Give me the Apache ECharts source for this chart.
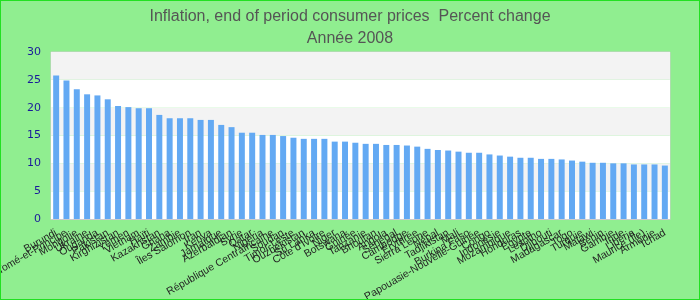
<!DOCTYPE html>
<html>
<head>
<meta charset="utf-8">
<script src="https://cdn.jsdelivr.net/npm/echarts@6/dist/echarts.min.js"></script>
<style>
html,body{margin:0;padding:0;}
#c{width:700px;height:300px;box-sizing:border-box;border:1px solid #22e022;background:#90ee90;}
</style>
</head>
<body>
<div id="c"></div>
<script>
const categories = ["Burundi","Sao Tomé-et-Principe","Mongolie","Ukraine","Ouganda","Pakistan","Kirghizistan","Yémen","Vietnam","Haïti","Kazakhstan","Ghana","Zambie","Îles Salomon","Iran","Kenya","Jamaïque","Azerbaïdjan","Syrie","Qatar","Nigéria","République Centrafricaine","Soudan","Timor-Leste","Ouzbékistan","Sri Lanka","Côte d'Ivoire","Niger","Botswana","Guinée","Tanzanie","Bhoutan","Angola","Sénégal","Cambodge","Érythrée","Sierra Leone","Népal","Tadjikistan","Mali","Burkina Faso","Papouasie-Nouvelle-Guinée","Congo","Indonésie","Mozambique","Honduras","Égypte","Lesotho","Djibouti","Madagascar","Togo","Turquie","Malawi","Bénin","Gambie","Inde","Libéria","Maurice (Île)","Arménie","Tchad"];
const values = [25.8,24.9,23.3,22.4,22.2,21.5,20.3,20.1,19.9,19.9,18.7,18.1,18.1,18.1,17.8,17.8,16.9,16.5,15.5,15.5,15.1,15.1,14.9,14.6,14.4,14.4,14.4,13.9,13.9,13.7,13.5,13.5,13.3,13.3,13.2,13.0,12.6,12.4,12.3,12.1,11.9,11.9,11.6,11.4,11.2,11.0,11.0,10.8,10.8,10.7,10.5,10.3,10.1,10.1,10.0,10.0,9.8,9.8,9.8,9.6];
const titleText = "Inflation, end of period consumer prices  Percent change";
const subtitleText = "Année 2008";
const chart = echarts.init(document.getElementById('c'), null, {renderer:'canvas'});
chart.setOption({
  animation:false,
  title:{text:titleText, subtext:subtitleText, left:'center', top:3,
    textStyle:{fontFamily:'Liberation Sans', fontSize:16, fontWeight:'normal', color:'#555'},
    subtextStyle:{fontFamily:'Liberation Sans', fontSize:16, color:'#555'}, itemGap:6},
  grid:{left:50, right:29, top:51, bottom:80, containLabel:false, outerBoundsMode:'none',
    show:true, borderColor:'#ccc', borderWidth:1, backgroundColor:'transparent'},
  xAxis:{type:'category', data:categories,
    axisLine:{lineStyle:{color:'#ccc'}}, axisTick:{show:false},
    axisLabel:{interval:0, rotate:30, fontSize:10.5, fontFamily:'Liberation Sans', color:'#222', margin:13, hideOverlap:false}},
  yAxis:{type:'value', min:0, max:30, interval:5,
    axisLine:{show:false}, axisTick:{show:false}, splitLine:{show:false},
    splitArea:{show:true, areaStyle:{color:['#ffffff','#f3f3f3']}},
    axisLabel:{fontSize:11, fontFamily:'DejaVu Sans', color:'#1a1a9a', margin:10}},
  series:[{type:'bar', data:values, barWidth:'58%', itemStyle:{color:'#63a9f3'}}]
});
</script>
</body>
</html>
